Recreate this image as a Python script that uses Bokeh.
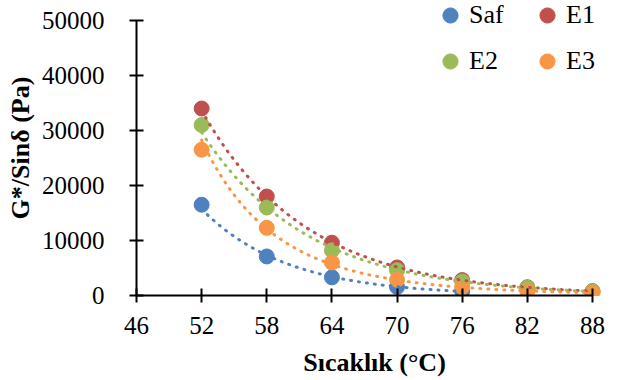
import numpy as np
from bokeh.plotting import figure
from bokeh.models import Range1d, FixedTicker, NumeralTickFormatter, Legend, LegendItem
from bokeh.embed import file_html
from bokeh.resources import INLINE

# Data
temps = [52, 58, 64, 70, 76, 82, 88]
saf_temps = [52, 58, 64, 70, 76]
saf = [16500, 7100, 3300, 1550, 780]
e1 = [34000, 18000, 9600, 5100, 2800, 1500, 800]
e2 = [31000, 16000, 8200, 4600, 2550, 1400, 750]
e3 = [26500, 12300, 6000, 2850, 1530, 825, 450]
names = ["Saf", "E1", "E2", "E3"]
colors = ["#4F81BD", "#C0504D", "#9BBB59", "#F79646"]
trend_types = ["exp", "exp", "exp", "power"]
x_ticks = [46, 52, 58, 64, 70, 76, 82, 88]
y_ticks = [0, 10000, 20000, 30000, 40000, 50000]
x_min, x_max = 46, 88
y_max = 50000

FONT = "Liberation Serif"

# layout (pixels)
W, H = 612, 380
B_LEFT, B_RIGHT, B_TOP, B_BOTTOM = 136, 0, 0, 85
frame_w = W - B_LEFT - B_RIGHT
frame_h = H - B_TOP - B_BOTTOM
axis_w_px = 456          # width of the 46..88 axis
axis_top_px = 20         # gap between frame top and the 50000 tick (room for the legend)
x_end = x_min + (x_max - x_min) * frame_w / axis_w_px
y_end = y_max * frame_h / (frame_h - axis_top_px)

p = figure(width=W, height=H, output_backend="svg", toolbar_location=None,
           x_range=Range1d(x_min, x_end), y_range=Range1d(0, y_end),
           min_border_left=B_LEFT, min_border_right=B_RIGHT,
           min_border_top=B_TOP, min_border_bottom=B_BOTTOM)
p.outline_line_color = None
p.xgrid.visible = False
p.ygrid.visible = False
p.background_fill_color = "white"

for ax in (p.xaxis[0], p.yaxis[0]):
    ax.axis_line_width = 2
    ax.axis_line_color = "black"
    ax.major_tick_line_width = 2
    ax.major_tick_line_color = "black"
    ax.minor_tick_line_color = None
    ax.major_label_text_font = FONT
    ax.major_label_text_font_size = "25px"
    ax.major_label_text_color = "black"
    ax.axis_label_text_font = FONT
    ax.axis_label_text_font_size = "26px"
    ax.axis_label_text_font_style = "bold"
    ax.axis_label_text_color = "black"
    ax.major_tick_in = 7
    ax.major_tick_out = 7

p.xaxis.ticker = FixedTicker(ticks=x_ticks)
p.yaxis.ticker = FixedTicker(ticks=y_ticks)
p.xaxis.bounds = (x_min, x_max)
p.yaxis.bounds = (0, y_max)
p.yaxis.formatter = NumeralTickFormatter(format="0")
p.xaxis.axis_label = "Sıcaklık (°C)"
p.yaxis.axis_label = "G*/Sinδ (Pa)"
p.xaxis.major_label_standoff = 14
p.yaxis.major_label_standoff = 25
p.xaxis.axis_label_standoff = 11
p.yaxis.axis_label_standoff = 4

series_x = [saf_temps, temps, temps, temps]
series_y = [saf, e1, e2, e3]
renderers = []
for xv, yv, c in zip(series_x, series_y, colors):
    r = p.scatter(xv, yv, size=15, color=c, line_color=c)
    renderers.append(r)

# Trendlines (least-squares fits of the data, as in the original spreadsheet chart)
for xv, yv, c, kind in zip(series_x, series_y, colors, trend_types):
    xa = np.array(xv, float)
    ya = np.array(yv, float)
    xs = np.linspace(xa.min(), xa.max(), 200)
    if kind == "exp":
        b, a = np.polyfit(xa, np.log(ya), 1)
        ys = np.exp(a + b * xs)
    else:
        b, a = np.polyfit(np.log(xa), np.log(ya), 1)
        ys = np.exp(a) * xs ** b
    p.line(xs, ys, line_color=c, line_width=3, line_dash="1 7", line_cap="round")

def make_legend(items, x, y):
    lg = Legend(items=items, location=(x, y), orientation="vertical")
    lg.glyph_width = 38
    lg.glyph_height = 38
    lg.label_standoff = -6
    lg.spacing = 8
    lg.padding = 0
    lg.margin = 0
    lg.border_line_alpha = 0
    lg.background_fill_alpha = 0
    lg.label_text_font = FONT
    lg.label_text_font_size = "26px"
    lg.label_text_color = "black"
    return lg

leg1 = make_legend([LegendItem(label=names[0], renderers=[renderers[0]]),
                    LegendItem(label=names[2], renderers=[renderers[2]])], 295, 215)
leg2 = make_legend([LegendItem(label=names[1], renderers=[renderers[1]]),
                    LegendItem(label=names[3], renderers=[renderers[3]])], 392, 215)
p.add_layout(leg1, "center")
p.add_layout(leg2, "center")

open("out.html", "w").write(file_html(p, INLINE))
